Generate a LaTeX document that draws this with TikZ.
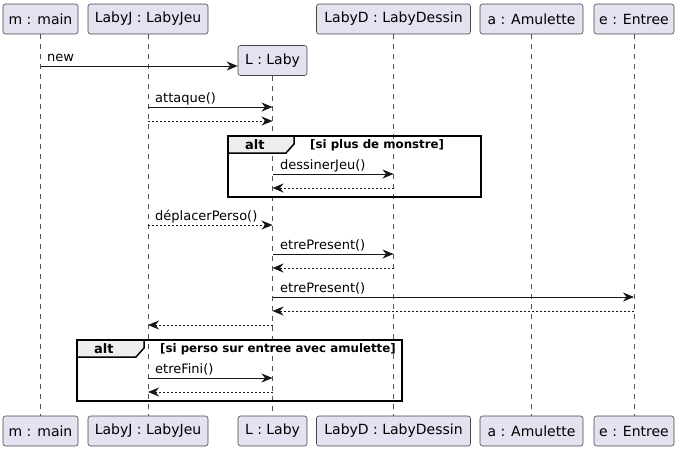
\documentclass[tikz,border=0pt]{standalone}
\usepackage{fontspec}
\setmainfont{DejaVu Sans}
\usetikzlibrary{arrows.meta}
\definecolor{partfill}{HTML}{E2E2F0}
\definecolor{lineC}{HTML}{181818}
\definecolor{tabfill}{HTML}{EEEEEE}
\begin{document}
\begin{tikzpicture}[x=1pt,y=-1pt,
  part/.style={draw=lineC!80, fill=partfill, rounded corners=2.5pt, line width=0.6pt,
    minimum height=30pt, inner xsep=0pt, font=\fontsize{14}{16}\selectfont, text=black},
  life/.style={draw=lineC!75, dash pattern=on 5pt off 5pt, line width=0.6pt},
  msg/.style={-{Stealth[length=11pt,width=9pt,inset=3.5pt]}, line width=0.9pt, draw=lineC},
  ret/.style={msg, dash pattern=on 2pt off 2pt},
  lbl/.style={font=\fontsize{13}{15}\selectfont, anchor=base west, inner sep=0pt, text=black},
  frm/.style={draw=black, line width=1.5pt},
  tab/.style={draw=black, line width=1.5pt, fill=tabfill},
  altlbl/.style={font=\bfseries\fontsize{13}{15}\selectfont, anchor=west, inner sep=0pt},
  guard/.style={font=\bfseries\fontsize{11.8}{13}\selectfont, anchor=west, inner sep=0pt}]
\useasboundingbox (0,0) rectangle (678,451);
% participants top
\node[part, minimum width=75pt]  (m) at (40.5,19) {m : main};
\node[part, minimum width=120pt] (J) at (148,19) {LabyJ : LabyJeu};
\node[part, minimum width=69pt]  (L) at (272.5,60.5) {L : Laby};
\node[part, minimum width=154pt] (D) at (393.5,19) {LabyD : LabyDessin};
\node[part, minimum width=103pt] (A) at (531.5,19) {a : Amulette};
\node[part, minimum width=80pt]  (E) at (634,19) {e : Entree};
% participants bottom
\node[part, minimum width=75pt]  (mb) at (40.5,431) {m : main};
\node[part, minimum width=120pt] (Jb) at (148,431) {LabyJ : LabyJeu};
\node[part, minimum width=69pt]  (Lb) at (272.5,431) {L : Laby};
\node[part, minimum width=154pt] (Db) at (393.5,431) {LabyD : LabyDessin};
\node[part, minimum width=103pt] (Ab) at (531.5,431) {a : Amulette};
\node[part, minimum width=80pt]  (Eb) at (634,431) {e : Entree};
% lifelines
\draw[life] (m.south) -- (mb.north);
\draw[life] (J.south) -- (Jb.north);
\draw[life] (L.south) -- (Lb.north);
\draw[life] (D.south) -- (Db.north);
\draw[life] (A.south) -- (Ab.north);
\draw[life] (E.south) -- (Eb.north);
% frame 1
\coordinate (f1a) at (228,136);
\coordinate (f1b) at (481,197);
\draw[frm] (f1a) rectangle (f1b);
\draw[tab] (228,136) -- (294,136) -- (294,144) -- (286,153) -- (228,153) -- cycle;
\node[altlbl] (alt1) at (245,145) {alt};
\node[guard] (g1) at (310,145) {[si plus de monstre]};
% frame 2
\coordinate (f2a) at (77,340);
\coordinate (f2b) at (402,401);
\draw[frm] (f2a) rectangle (f2b);
\draw[tab] (77,340) -- (144,340) -- (144,348) -- (136,357) -- (77,357) -- cycle;
\node[altlbl] (alt2) at (94,349) {alt};
\node[guard] (g2) at (160,349) {[si perso sur entree avec amulette]};
% messages
\draw[msg] (m |- 0,66) -- (L.west |- 0,66);
\node[lbl] (t1) at (47,61) {new};
\draw[msg] (J |- 0,107) -- (L |- 0,107);
\node[lbl] (t2) at (155,102) {attaque()};
\draw[ret] (J |- 0,121) -- (L |- 0,121);
\draw[msg] (L |- 0,174) -- (D |- 0,174);
\node[lbl] (t3) at (280,169) {dessinerJeu()};
\draw[ret] (D |- 0,188) -- (L |- 0,188);
\draw[ret] (J |- 0,225) -- (L |- 0,225);
\node[lbl] (t4) at (155,220) {déplacerPerso()};
\draw[msg] (L |- 0,254) -- (D |- 0,254);
\node[lbl] (t5) at (280,249) {etrePresent()};
\draw[ret] (D |- 0,268) -- (L |- 0,268);
\draw[msg] (L |- 0,297) -- (E |- 0,297);
\node[lbl] (t6) at (280,292) {etrePresent()};
\draw[ret] (E |- 0,311) -- (L |- 0,311);
\draw[ret] (L |- 0,325) -- (J |- 0,325);
\draw[msg] (J |- 0,378) -- (L |- 0,378);
\node[lbl] (t7) at (155,373) {etreFini()};
\draw[ret] (L |- 0,392) -- (J |- 0,392);
\end{tikzpicture}
\end{document}
